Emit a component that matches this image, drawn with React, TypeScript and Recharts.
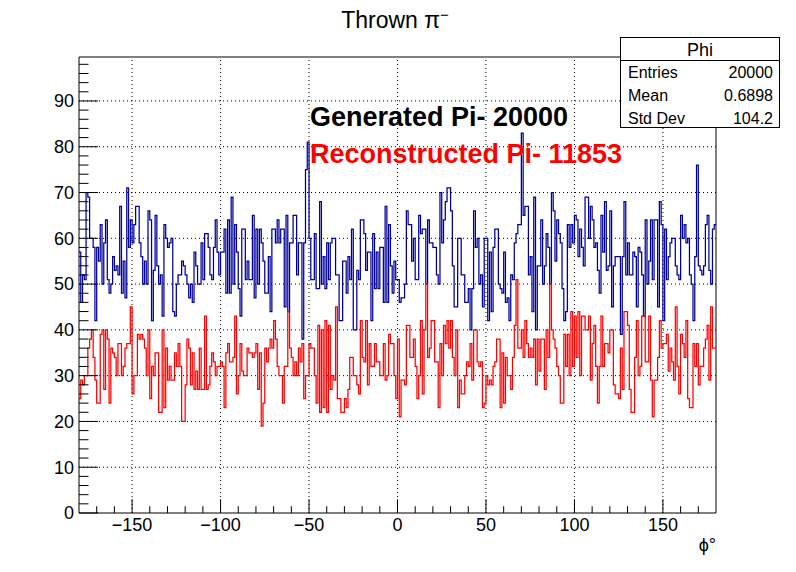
import React from 'react';
import { ComposedChart, Line, XAxis, YAxis, ReferenceLine } from 'recharts';

// counts per 1-degree bin, phi from -180 to 180
const generated = [
  57, 46, 52, 51, 70, 69, 60, 60, 58, 42, 58, 55, 63, 50, 59, 64, 51, 48, 50, 56, 53, 54, 52, 67, 48, 55, 47, 71, 58, 64, 59, 63, 67, 67, 59, 56,
  50, 55, 50, 66, 64, 42, 53, 65, 54, 50, 52, 43, 63, 60, 58, 59, 60, 44, 43, 50, 52, 52, 55, 54, 52, 50, 47, 50, 46, 57, 54, 50, 50, 59, 51, 61,
  61, 58, 52, 51, 58, 64, 57, 52, 57, 57, 62, 48, 64, 48, 69, 50, 63, 57, 49, 43, 62, 62, 51, 55, 51, 51, 65, 47, 62, 50, 62, 59, 55, 48, 48, 56,
  44, 62, 62, 59, 64, 59, 62, 62, 45, 65, 44, 59, 59, 65, 65, 52, 59, 59, 38, 59, 75, 81, 60, 51, 51, 61, 49, 49, 68, 50, 56, 49, 59, 51, 59, 60,
  60, 52, 52, 42, 42, 55, 55, 48, 56, 51, 62, 40, 40, 53, 51, 64, 64, 61, 53, 57, 57, 42, 61, 49, 57, 49, 58, 58, 46, 67, 46, 63, 54, 48, 55, 51,
  51, 46, 47, 47, 50, 66, 63, 63, 55, 60, 51, 51, 65, 61, 62, 62, 50, 64, 59, 59, 58, 58, 52, 50, 70, 59, 64, 68, 71, 71, 66, 54, 45, 45, 60, 60,
  52, 52, 46, 46, 49, 40, 49, 66, 58, 60, 50, 52, 45, 60, 60, 42, 57, 44, 58, 62, 62, 50, 49, 48, 57, 46, 47, 42, 52, 51, 59, 61, 63, 63, 83, 65,
  67, 67, 52, 56, 44, 69, 40, 54, 54, 64, 50, 54, 61, 58, 50, 70, 66, 55, 64, 61, 59, 49, 42, 44, 63, 58, 63, 59, 65, 64, 56, 62, 58, 54, 69, 69,
  60, 67, 64, 58, 59, 53, 48, 65, 57, 68, 53, 54, 66, 45, 54, 56, 56, 56, 39, 56, 68, 52, 59, 52, 52, 57, 56, 45, 58, 57, 52, 43, 64, 50, 55, 64,
  51, 64, 64, 45, 68, 63, 42, 62, 51, 56, 59, 60, 60, 54, 52, 51, 65, 60, 63, 59, 60, 52, 50, 42, 56, 76, 54, 53, 52, 54, 63, 65, 53, 50, 62, 63,
];

const reconstructed = [
  25, 29, 28, 30, 30, 36, 38, 40, 34, 29, 24, 24, 39, 40, 27, 40, 38, 24, 36, 35, 34, 30, 37, 37, 30, 32, 36, 37, 37, 45, 26, 30, 30, 39, 38, 39,
  38, 36, 30, 40, 25, 32, 30, 35, 35, 22, 22, 40, 23, 36, 29, 32, 29, 29, 35, 32, 37, 32, 20, 20, 28, 38, 36, 28, 35, 27, 31, 27, 36, 27, 27, 43,
  27, 28, 32, 35, 33, 30, 32, 32, 33, 32, 23, 35, 37, 33, 33, 34, 43, 26, 30, 37, 31, 30, 30, 36, 35, 35, 34, 35, 37, 27, 35, 19, 24, 36, 33, 36,
  38, 36, 42, 38, 32, 30, 30, 24, 32, 32, 44, 36, 34, 30, 33, 30, 36, 33, 37, 25, 30, 30, 37, 36, 36, 30, 24, 41, 22, 40, 23, 42, 22, 41, 27, 30,
  29, 45, 25, 25, 22, 22, 25, 23, 27, 34, 34, 30, 30, 28, 26, 42, 34, 33, 42, 28, 37, 32, 32, 37, 33, 33, 30, 30, 37, 29, 30, 39, 37, 37, 30, 25,
  38, 21, 29, 29, 28, 41, 41, 34, 34, 38, 32, 25, 30, 42, 26, 40, 50, 34, 36, 42, 42, 33, 33, 23, 37, 30, 41, 37, 42, 36, 42, 34, 30, 40, 23, 29,
  26, 26, 30, 33, 32, 37, 29, 40, 40, 33, 32, 33, 23, 24, 30, 28, 29, 28, 32, 33, 38, 38, 23, 35, 24, 34, 30, 30, 27, 34, 41, 51, 36, 36, 40, 34,
  42, 37, 34, 36, 34, 38, 28, 38, 31, 38, 38, 27, 40, 34, 50, 40, 38, 36, 32, 30, 24, 24, 39, 32, 39, 30, 44, 32, 43, 34, 44, 30, 43, 43, 40, 40,
  43, 29, 37, 41, 32, 24, 32, 43, 32, 37, 37, 35, 40, 40, 28, 26, 26, 25, 36, 27, 44, 44, 41, 27, 22, 22, 34, 42, 30, 32, 43, 43, 33, 33, 43, 29,
  21, 29, 29, 34, 42, 36, 37, 37, 39, 31, 36, 33, 29, 45, 32, 26, 39, 37, 34, 42, 25, 23, 23, 37, 32, 37, 28, 32, 32, 36, 38, 41, 29, 45, 36, 36,
];

const xMajor = [-150, -100, -50, 0, 50, 100, 150];
const yMajor = [10, 20, 30, 40, 50, 60, 70, 80, 90];
const xTicks = Array.from({ length: 35 }, (_, i) => -170 + i * 10);
const yTicks = Array.from({ length: 50 }, (_, i) => i * 2);
const yMax = 99.6;

const stats = [
  { label: 'Entries', value: '20000' },
  { label: 'Mean', value: '0.6898' },
  { label: 'Std Dev', value: '104.2' },
];

const data = generated.map((g, i) => ({ phi: -180 + i, gen: g, rec: reconstructed[i] }));
data.push({ phi: 180, gen: generated[generated.length - 1], rec: reconstructed[reconstructed.length - 1] });

const FONT = '"Liberation Sans", Arial, Helvetica, sans-serif';

const XTick = (props: any) => {
  const { x, y, payload } = props;
  const v = payload.value;
  const major = v % 50 === 0;
  return (
    <g>
      <line x1={x} x2={x} y1={y} y2={y - (major ? 13.7 : 6.8)} stroke="#000" strokeWidth={1} />
      {major && (
        <text x={x} y={y + 18} textAnchor="middle" fontSize={18} fontFamily={FONT} fill="#000">
          {v < 0 ? '\u2212' + Math.abs(v) : String(v)}
        </text>
      )}
    </g>
  );
};

const YTick = (props: any) => {
  const { x, y, payload } = props;
  const v = payload.value;
  const major = v % 10 === 0;
  return (
    <g>
      <line x1={x} x2={x + (major ? 19 : 9.5)} y1={y} y2={y} stroke="#000" strokeWidth={1} />
      {major && (
        <text x={x - 5} y={y} dy="0.35em" textAnchor="end" fontSize={18} fontFamily={FONT} fill="#000">
          {v}
        </text>
      )}
    </g>
  );
};

export default function App() {
  return (
    <div style={{ position: 'absolute', left: 0, top: 0, width: 796, height: 572, background: '#fff' }}>
      <ComposedChart width={796} height={572} data={data} margin={{ top: 57, right: 80, bottom: 0, left: 0 }}>
        <XAxis
          dataKey="phi"
          type="number"
          domain={[-180, 180]}
          ticks={xTicks}
          interval={0}
          height={59}
          tickSize={0}
          tickMargin={0}
          tickLine={false}
          tick={<XTick />}
          axisLine={{ stroke: '#000' }}
          allowDataOverflow
        />
        <YAxis
          type="number"
          domain={[0, yMax]}
          ticks={yTicks}
          interval={0}
          width={79}
          tickSize={0}
          tickMargin={0}
          tickLine={false}
          tick={<YTick />}
          axisLine={{ stroke: '#000' }}
          allowDataOverflow
        />
        {xMajor.map((v) => (
          <ReferenceLine key={'gx' + v} x={v} stroke="#000" strokeDasharray="1 3" />
        ))}
        {yMajor.map((v) => (
          <ReferenceLine key={'gy' + v} y={v} stroke="#000" strokeDasharray="1 3" />
        ))}
        <ReferenceLine y={yMax} stroke="#000" />
        <ReferenceLine x={180} stroke="#000" />
        <Line type="stepAfter" dataKey="gen" stroke="#000099" strokeWidth={1.25} dot={false} isAnimationActive={false} />
        <Line type="stepAfter" dataKey="rec" stroke="#ff0000" strokeWidth={1.25} dot={false} isAnimationActive={false} />
      </ComposedChart>
      <svg width={796} height={572} style={{ position: 'absolute', left: 0, top: 0, pointerEvents: 'none' }} fontFamily={FONT}>
        <text x={395} y={28} textAnchor="middle" fontSize={23} fill="#000">
          Thrown π<tspan dy={-8} fontSize={15}>{'\u2212'}</tspan>
        </text>
        <text x={310} y={126} fontSize={27} fontWeight="bold" fill="#000">Generated Pi- 20000</text>
        <text x={310} y={163} fontSize={27} fontWeight="bold" fill="#ff0000">Reconstructed Pi- 11853</text>
        <text x={716} y={551} textAnchor="end" fontSize={18} fill="#000">ϕ°</text>
        <rect x={620.5} y={37.5} width={159} height={90} fill="#fff" stroke="#000" />
        <line x1={620.5} x2={779.5} y1={60.5} y2={60.5} stroke="#000" />
        <text x={700} y={56} textAnchor="middle" fontSize={18} fill="#000">Phi</text>
        {stats.map((s, i) => (
          <g key={s.label}>
            <text x={628} y={78 + i * 23} fontSize={16} fill="#000">{s.label}</text>
            <text x={773} y={78 + i * 23} textAnchor="end" fontSize={16} fill="#000">{s.value}</text>
          </g>
        ))}
      </svg>
    </div>
  );
}
